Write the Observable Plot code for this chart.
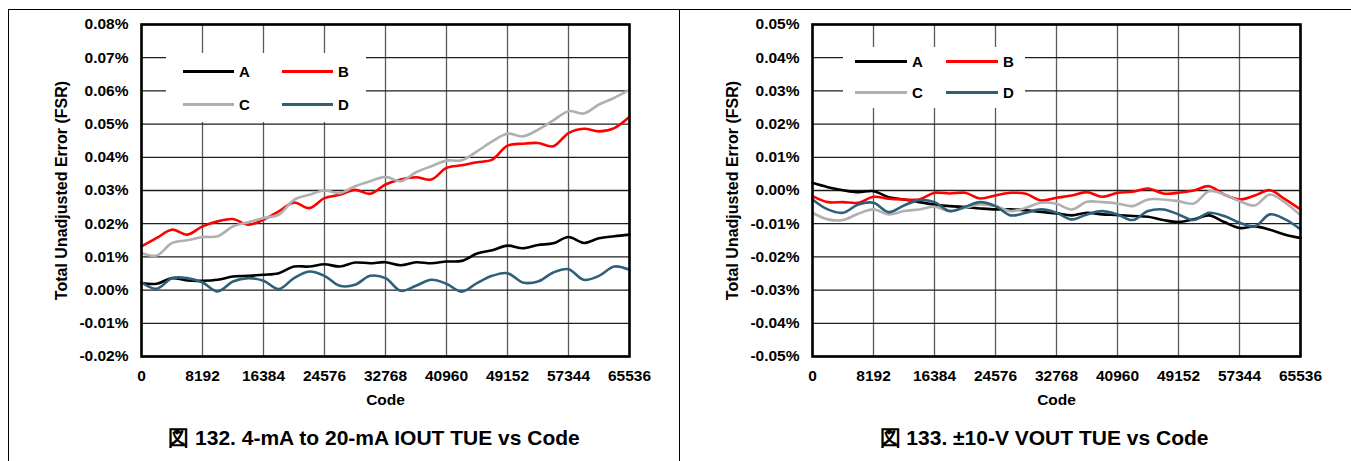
<!DOCTYPE html>
<html><head><meta charset="utf-8">
<script src="https://cdn.jsdelivr.net/npm/d3@7"></script>
<script src="https://cdn.jsdelivr.net/npm/@observablehq/plot@0.6"></script>
<style>
body{margin:0;background:#fff;font-family:"Liberation Sans",Arial,sans-serif;color:#000;}
#wrap{position:relative;width:1351px;height:461px;overflow:hidden;background:#fff;}
.panel{position:absolute;top:0;height:461px;}
.panel svg{position:absolute;left:0;top:0;}
.title{position:absolute;top:425px;font-weight:bold;font-size:21px;line-height:26px;white-space:nowrap;transform:translateX(-50%);}
.legend{position:absolute;background:#fff;}
.sw{position:absolute;height:3px;}
.lab{position:absolute;font-weight:bold;font-size:15px;line-height:15px;}
.rule{position:absolute;background:#000;}
</style></head><body>
<div id="wrap"></div>
<script>
// ---- data ----
const codes = [0,2048,4096,6144,8192,10240,12288,14336,16384,18432,20480,22528,24576,26624,28672,30720,32768,34816,36864,38912,40960,43008,45056,47104,49152,51200,53248,55296,57344,59392,61440,63488,65536];
const seriesNames = ["A","B","C","D"];
const seriesColors = ["#000000","#ff0000","#b0b0b0","#2f6079"];
const xTicks = [0,8192,16384,24576,32768,40960,49152,57344,65536];
const yTicksIout = [-0.02,-0.01,0,0.01,0.02,0.03,0.04,0.05,0.06,0.07,0.08];
const yTicksVout = [-0.05,-0.04,-0.03,-0.02,-0.01,0,0.01,0.02,0.03,0.04,0.05];

// Figure 132: 4-mA to 20-mA IOUT TUE (% FSR)
const iout_A = [0.0021,0.0019,0.0036,0.0029,0.0028,0.0031,0.0041,0.0043,0.0046,0.0051,0.0071,0.0071,0.0078,0.0071,0.0083,0.0081,0.0084,0.0075,0.0084,0.0081,0.0086,0.0088,0.0110,0.0120,0.0134,0.0126,0.0136,0.0141,0.0160,0.0142,0.0156,0.0162,0.0167];
const iout_B = [0.0132,0.0157,0.0182,0.0167,0.0192,0.0207,0.0214,0.0197,0.0212,0.0237,0.0264,0.0247,0.0277,0.0287,0.0302,0.0290,0.0318,0.0333,0.0340,0.0333,0.0368,0.0376,0.0385,0.0393,0.0435,0.0441,0.0443,0.0433,0.0473,0.0486,0.0478,0.0488,0.0522];
const iout_C = [0.0112,0.0104,0.0142,0.0150,0.0160,0.0162,0.0192,0.0204,0.0217,0.0227,0.0272,0.0287,0.0300,0.0292,0.0313,0.0328,0.0341,0.0328,0.0355,0.0373,0.0390,0.0391,0.0418,0.0448,0.0471,0.0463,0.0483,0.0511,0.0539,0.0532,0.0559,0.0579,0.0604];
const iout_D = [0.0023,0.0004,0.0036,0.0036,0.0023,-0.0004,0.0026,0.0036,0.0028,0.0003,0.0036,0.0056,0.0043,0.0013,0.0016,0.0043,0.0036,-0.0002,0.0013,0.0031,0.0019,-0.0005,0.0021,0.0043,0.0051,0.0023,0.0026,0.0053,0.0063,0.0031,0.0043,0.0071,0.0061];

// Figure 133: ±10-V VOUT TUE (% FSR)
const vout_A = [0.0023,0.0010,0.0001,-0.0005,-0.0002,-0.0020,-0.0027,-0.0035,-0.0042,-0.0047,-0.0050,-0.0054,-0.0057,-0.0057,-0.0060,-0.0065,-0.0069,-0.0075,-0.0067,-0.0072,-0.0074,-0.0077,-0.0079,-0.0089,-0.0095,-0.0087,-0.0075,-0.0095,-0.0113,-0.0108,-0.0118,-0.0133,-0.0143];
const vout_B = [-0.0017,-0.0035,-0.0035,-0.0037,-0.0019,-0.0025,-0.0027,-0.0027,-0.0007,-0.0009,-0.0007,-0.0024,-0.0015,-0.0007,-0.0010,-0.0030,-0.0022,-0.0015,-0.0005,-0.0019,-0.0007,-0.0004,0.0006,-0.0009,-0.0007,0.0000,0.0013,-0.0012,-0.0027,-0.0015,0.0001,-0.0027,-0.0057];
const vout_C = [-0.0067,-0.0087,-0.0089,-0.0070,-0.0057,-0.0072,-0.0062,-0.0057,-0.0049,-0.0062,-0.0052,-0.0042,-0.0047,-0.0062,-0.0052,-0.0037,-0.0040,-0.0057,-0.0034,-0.0035,-0.0039,-0.0047,-0.0027,-0.0027,-0.0032,-0.0039,-0.0002,-0.0012,-0.0032,-0.0045,-0.0012,-0.0037,-0.0075];
const vout_D = [-0.0027,-0.0057,-0.0067,-0.0042,-0.0037,-0.0065,-0.0045,-0.0029,-0.0035,-0.0062,-0.0049,-0.0035,-0.0047,-0.0075,-0.0067,-0.0057,-0.0067,-0.0087,-0.0072,-0.0062,-0.0072,-0.0089,-0.0062,-0.0057,-0.0072,-0.0089,-0.0067,-0.0077,-0.0097,-0.0108,-0.0072,-0.0087,-0.0117];

const titleIout = "図 132. 4-mA to 20-mA IOUT TUE vs Code";
const titleVout = "図 133. ±10-V VOUT TUE vs Code";
const yLabel = "Total Unadjusted Error (FSR)";
const xLabel = "Code";

// ---- build ----
function tidy(arrs){
  const rows = [];
  arrs.forEach((arr, si) => arr.forEach((v, i) => rows.push({code: codes[i], v, s: seriesNames[si]})));
  return rows;
}
const FONT = '"Liberation Sans", Arial, sans-serif';
function makeChart(cfg){
  const rows = tidy(cfg.series);
  return Plot.plot({
    width: cfg.width, height: 415,
    marginLeft: cfg.ml, marginRight: cfg.mr, marginTop: 24, marginBottom: 59,
    style: {fontFamily: FONT, fontSize: "15px", fontWeight: "bold", color: "#000", background: "transparent", overflow: "visible"},
    x: {domain: [0, 65536]},
    y: {domain: cfg.ydomain},
    color: {domain: seriesNames, range: seriesColors},
    marks: [
      Plot.gridX(xTicks, {stroke: "#5a5a5a", strokeOpacity: 1, strokeWidth: 1.3}),
      Plot.gridY(cfg.yticks, {stroke: "#1e1e1e", strokeOpacity: 1, strokeWidth: 1.3}),
      Plot.line(rows, {x: "code", y: "v", z: "s", stroke: "s", curve: "catmull-rom", strokeWidth: 2.6}),
      Plot.frame({stroke: "#000", strokeWidth: 2.6}),
      Plot.axisX(xTicks, {tickSize: 0, tickPadding: 13, fontSize: 15.5, fontWeight: "bold", label: null, tickFormat: d => String(d)}),
      Plot.axisY(cfg.yticks, {tickSize: 0, tickPadding: 13, fontSize: 15.5, fontWeight: "bold", label: null,
        tickFormat: d => (Math.abs(d) < 1e-9 ? 0 : d).toFixed(2) + "%"}),
      Plot.text([yLabel], {text: d => d, frameAnchor: "left", textAnchor: "middle", rotate: -90, dx: -80, fontSize: 16, fontWeight: "bold"}),
      Plot.text([xLabel], {text: d => d, frameAnchor: "bottom", dy: 48, fontSize: 15.5, fontWeight: "bold"})
    ]
  });
}

const wrap = document.getElementById("wrap");
function rule(l, t, w, h){ const d = document.createElement("div"); d.className = "rule"; Object.assign(d.style, {left: l+"px", top: t+"px", width: w+"px", height: h+"px"}); wrap.appendChild(d); }

function panel(left, width, cfg, title, titleX, leg){
  const p = document.createElement("div");
  p.className = "panel"; p.style.left = left + "px"; p.style.width = width + "px";
  p.appendChild(makeChart(cfg));
  const lg = document.createElement("div");
  lg.className = "legend";
  Object.assign(lg.style, {left: leg.x+"px", top: leg.y+"px", width: leg.w+"px", height: leg.h+"px"});
  seriesNames.forEach((n, i) => {
    const col = i % 2, row = Math.floor(i / 2);
    const sw = document.createElement("div");
    sw.className = "sw";
    Object.assign(sw.style, {left: leg.swx[col]+"px", top: (leg.rows[row]-1.5)+"px", width: leg.sww+"px", background: seriesColors[i]});
    lg.appendChild(sw);
    const lb = document.createElement("div");
    lb.className = "lab"; lb.textContent = n;
    Object.assign(lb.style, {left: (leg.swx[col]+leg.sww+5)+"px", top: (leg.rows[row]-7.5)+"px"});
    lg.appendChild(lb);
  });
  p.appendChild(lg);
  const t = document.createElement("div");
  t.className = "title"; t.textContent = title; t.style.left = titleX + "px";
  p.appendChild(t);
  wrap.appendChild(p);
}

panel(0, 680, {width: 680, ml: 141, mr: 51, ydomain: [-0.02, 0.08], yticks: yTicksIout, series: [iout_A, iout_B, iout_C, iout_D]},
  titleIout, 374, {x: 166, y: 53, w: 200, h: 69, rows: [18, 51], swx: [17, 116], sww: 51});
panel(680, 671, {width: 671, ml: 132, mr: 51, ydomain: [-0.05, 0.05], yticks: yTicksVout, series: [vout_A, vout_B, vout_C, vout_D]},
  titleVout, 364, {x: 163, y: 47, w: 182, h: 61, rows: [14, 45], swx: [12, 103], sww: 52});

// outer table rules
rule(8, 9, 1343, 1);
rule(8, 9, 1, 452);
rule(679, 9, 1, 452);
</script>
</body></html>
